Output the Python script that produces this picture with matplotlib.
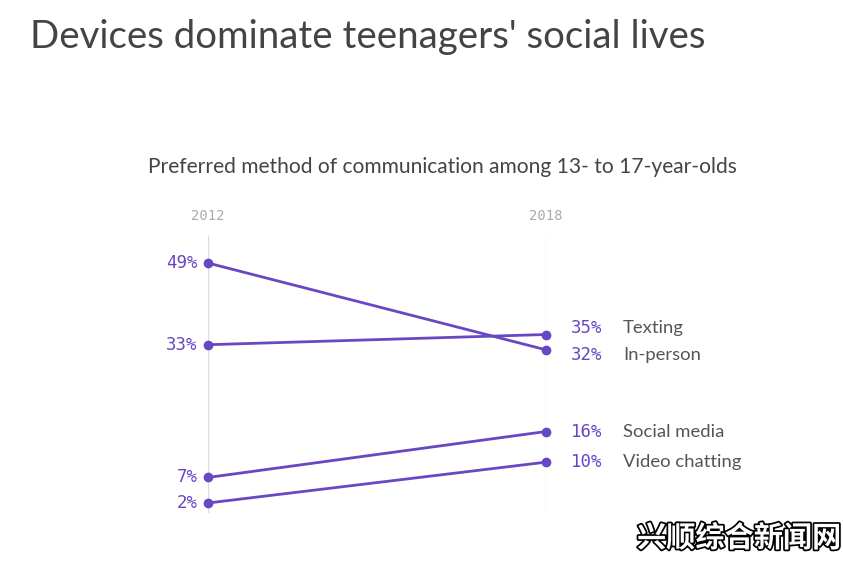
import matplotlib.pyplot as plt
import matplotlib.patheffects as pe

# data
years = ["2012", "2018"]
methods = ["In-person", "Texting", "Social media", "Video chatting"]
share_2012 = [49, 33, 7, 2]
share_2018 = [32, 35, 16, 10]

PURPLE = "#6848c2"
GRAY_TXT = "#555555"
MONO = "DejaVu Sans Mono"
SANS = "Lato"

fig = plt.figure(figsize=(8.43, 5.70), dpi=100)
fig.patch.set_facecolor("white")

fig.text(30 / 843, 1 - 37 / 570, "Devices dominate teenagers' social lives",
         fontsize=27.6, color="#444444", family=SANS, va="center", ha="left")
fig.text(148 / 843, 1 - 167 / 570,
         "Preferred method of communication among 13- to 17-year-olds",
         fontsize=15.1, color="#444444", family=SANS, va="center", ha="left")

ax = fig.add_axes([208 / 843, (570 - 513.2) / 570, 338 / 843, 280.8 / 570])
ax.set_xlim(0, 1)
ax.set_ylim(0, 55)
ax.axis("off")

# vertical year guides
for x, yr in zip([0, 1], years):
    ax.vlines(x, -0.4, 54.5, color="#dddddd", lw=1, zorder=1)
    ax.text(x, 58.3, yr, ha="center", va="center", fontsize=10,
            family=MONO, color="#aaaaaa", clip_on=False)

# label nudges (points) to keep close end labels apart
right_nudge = [-3.5, 4.5, 0, 0]

for name, a, b, dy in zip(methods, share_2012, share_2018, right_nudge):
    ax.plot([0, 1], [a, b], color=PURPLE, lw=2, marker="o", ms=6,
            solid_capstyle="round", zorder=3, clip_on=False)
    ax.annotate(f"{a}%", (0, a), xytext=(-7.5, 0), textcoords="offset points",
                ha="right", va="center", fontsize=12.5, family=MONO,
                color=PURPLE)
    ax.annotate(f"{b}%", (1, b), xytext=(18, dy), textcoords="offset points",
                ha="left", va="center", fontsize=12.5, family=MONO,
                color=PURPLE)
    ax.annotate(name, (1, b), xytext=(55.5, dy), textcoords="offset points",
                ha="left", va="center", fontsize=13.3, family=SANS,
                color=GRAY_TXT)

# watermark
fig.text(739 / 843, 1 - 538 / 570, "兴顺综合新闻网", ha="center", va="center",
         fontsize=21, family="Noto Sans CJK SC", fontweight="bold",
         color="white",
         path_effects=[pe.withStroke(linewidth=2.5, foreground="black")])

fig.savefig("out.png", dpi=100, facecolor="white")
